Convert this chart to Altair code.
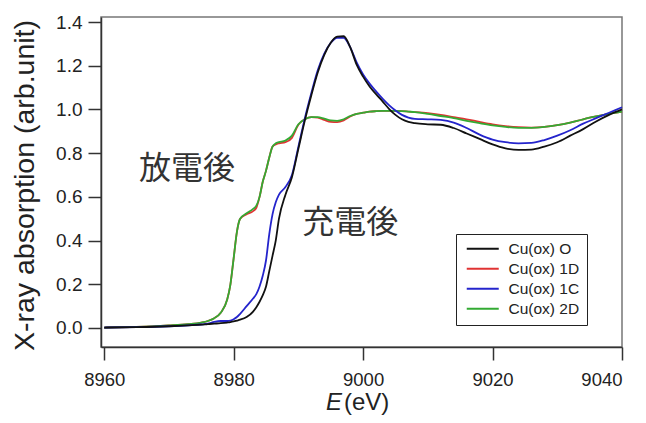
import altair as alt
import pandas as pd

energy = [8960, 8965, 8970, 8973, 8975, 8976, 8977, 8978, 8979, 8979.5, 8980, 8980.5, 8981,
          8982, 8983, 8983.5, 8984, 8984.5, 8985, 8985.5, 8986, 8986.5, 8987, 8988, 8989,
          8990, 8991, 8992, 8993, 8994, 8995, 8996, 8997, 8998, 8999, 9000, 9001, 9002,
          9003, 9004, 9005, 9006, 9007, 9008, 9010, 9012, 9014, 9016, 9018, 9020, 9022,
          9024, 9026, 9028, 9030, 9032, 9034, 9036, 9038, 9040]

cu_o = [0.002, 0.004, 0.008, 0.012, 0.015, 0.018, 0.020, 0.022, 0.025, 0.027, 0.030, 0.034, 0.038,
        0.050, 0.075, 0.095, 0.120, 0.150, 0.190, 0.260, 0.330, 0.400, 0.500, 0.610, 0.690,
        0.820, 0.950, 1.065, 1.170, 1.250, 1.305, 1.333, 1.335, 1.285, 1.205, 1.150, 1.105, 1.070,
        1.037, 1.003, 0.975, 0.955, 0.943, 0.937, 0.932, 0.930, 0.915, 0.890, 0.865, 0.840, 0.822,
        0.815, 0.816, 0.830, 0.850, 0.880, 0.910, 0.945, 0.975, 1.000]

cu_1d = [0.002, 0.005, 0.012, 0.018, 0.025, 0.032, 0.045, 0.070, 0.130, 0.200, 0.320, 0.440, 0.500,
         0.520, 0.535, 0.550, 0.600, 0.670, 0.720, 0.780, 0.830, 0.840, 0.845, 0.850, 0.870,
         0.930, 0.955, 0.965, 0.963, 0.952, 0.943, 0.942, 0.950, 0.968, 0.980, 0.985, 0.990, 0.992,
         0.993, 0.993, 0.993, 0.992, 0.990, 0.988, 0.983, 0.975, 0.965, 0.955, 0.943, 0.932, 0.924,
         0.919, 0.917, 0.920, 0.928, 0.940, 0.955, 0.968, 0.980, 0.990]

cu_1c = [0.002, 0.004, 0.008, 0.012, 0.016, 0.020, 0.028, 0.032, 0.032, 0.034, 0.040, 0.050, 0.065,
         0.100, 0.135, 0.155, 0.190, 0.240, 0.310, 0.430, 0.520, 0.575, 0.610, 0.645, 0.700,
         0.830, 0.960, 1.075, 1.180, 1.255, 1.305, 1.328, 1.328, 1.285, 1.215, 1.160, 1.118, 1.083,
         1.050, 1.020, 0.995, 0.975, 0.963, 0.957, 0.955, 0.952, 0.940, 0.915, 0.885, 0.862, 0.850,
         0.845, 0.847, 0.860, 0.880, 0.905, 0.935, 0.960, 0.985, 1.010]

cu_2d = [0.002, 0.005, 0.012, 0.018, 0.025, 0.032, 0.045, 0.070, 0.130, 0.200, 0.320, 0.440, 0.500,
         0.525, 0.545, 0.560, 0.600, 0.670, 0.720, 0.780, 0.830, 0.845, 0.850, 0.858, 0.880,
         0.932, 0.955, 0.965, 0.965, 0.958, 0.950, 0.948, 0.955, 0.970, 0.980, 0.985, 0.990, 0.992,
         0.993, 0.993, 0.993, 0.992, 0.990, 0.988, 0.980, 0.970, 0.960, 0.948, 0.937, 0.927, 0.920,
         0.916, 0.916, 0.920, 0.928, 0.940, 0.955, 0.968, 0.980, 0.990]

series_names = ["Cu(ox) O", "Cu(ox) 1D", "Cu(ox) 1C", "Cu(ox) 2D"]
series_colors = ["#111111", "#e03333", "#2424cc", "#33aa33"]
draw_order = ["Cu(ox) 1D", "Cu(ox) 2D", "Cu(ox) 1C", "Cu(ox) O"]

annot_text = ["放電後", "充電後"]
annot_e = [8972.8, 8998.0]
annot_v = [0.726, 0.48]

x_ticks = [8960, 8980, 9000, 9020, 9040]
y_ticks = [0.0, 0.2, 0.4, 0.6, 0.8, 1.0, 1.2, 1.4]

rows = []
for name, vals in zip(series_names, [cu_o, cu_1d, cu_1c, cu_2d]):
    for e, v in zip(energy, vals):
        rows.append({"E": e, "A": v, "series": name})
df = pd.DataFrame(rows)

FONT = "Liberation Sans"

x_enc = alt.X("E:Q", scale=alt.Scale(domain=[8959.5, 9040], nice=False, zero=False),
              axis=alt.Axis(values=x_ticks, format="d", title=None, grid=False,
                            tickSize=13, labelPadding=10, labelFontSize=18.5, labelFont=FONT,
                            labelColor="#222", domainColor="#333", tickColor="#333",
                            domainWidth=1.5, tickWidth=1.5))
y_enc = alt.Y("A:Q", scale=alt.Scale(domain=[-0.087, 1.423], nice=False, zero=False),
              axis=alt.Axis(values=y_ticks, format=".1f", grid=False,
                            title="X-ray absorption (arb.unit)", titleFontSize=28.5,
                            titleFont=FONT, titleFontWeight="normal", titleColor="#222",
                            titleX=-68, titleY=168, titleBaseline="alphabetic",
                            tickSize=13, labelPadding=6, labelFontSize=19, labelFont=FONT,
                            labelColor="#222", domainColor="#333", tickColor="#333",
                            domainWidth=1.5, tickWidth=1.5))
color_enc = alt.Color("series:N",
                      scale=alt.Scale(domain=series_names, range=series_colors),
                      legend=alt.Legend(title=None, orient="none", legendX=355, legendY=217,
                                        strokeColor="#222", fillColor="white", padding=7,
                                        labelFont=FONT, labelFontSize=15.5, labelColor="#222",
                                        symbolType="M-1,0H7", symbolSize=64,
                                        symbolStrokeWidth=1.8, labelOffset=30, rowPadding=3))

layers = []
for name in draw_order:
    layers.append(
        alt.Chart(df).transform_filter(alt.datum.series == name)
        .mark_line(strokeWidth=1.8, interpolate="monotone")
        .encode(x=x_enc, y=y_enc, color=color_enc)
    )

annot_df = pd.DataFrame({"t": annot_text, "E": annot_e, "A": annot_v})
annot = alt.Chart(annot_df).mark_text(font="Noto Sans CJK JP", fontSize=32, color="#333",
                                      align="center", baseline="middle").encode(
    x="E:Q", y="A:Q", text="t:N")

e_lab = alt.Chart(pd.DataFrame({"t": ["E"]})).mark_text(
    font=FONT, fontSize=24, fontStyle="italic", color="#222", align="right",
    baseline="alphabetic").encode(x=alt.value(241), y=alt.value(393), text="t:N")
ev_lab = alt.Chart(pd.DataFrame({"t": ["(eV)"]})).mark_text(
    font=FONT, fontSize=24, color="#222", align="left",
    baseline="alphabetic").encode(x=alt.value(243), y=alt.value(393), text="t:N")

chart = alt.layer(*layers, annot, e_lab, ev_lab).properties(
    width=521, height=330,
    autosize=alt.AutoSizeParams(type="none"),
    padding={"left": 93, "top": 9, "right": 16, "bottom": 68},
).configure_view(stroke="#777", strokeWidth=1.5)

chart.save("out.html", embed_options={"renderer": "svg", "actions": False})
